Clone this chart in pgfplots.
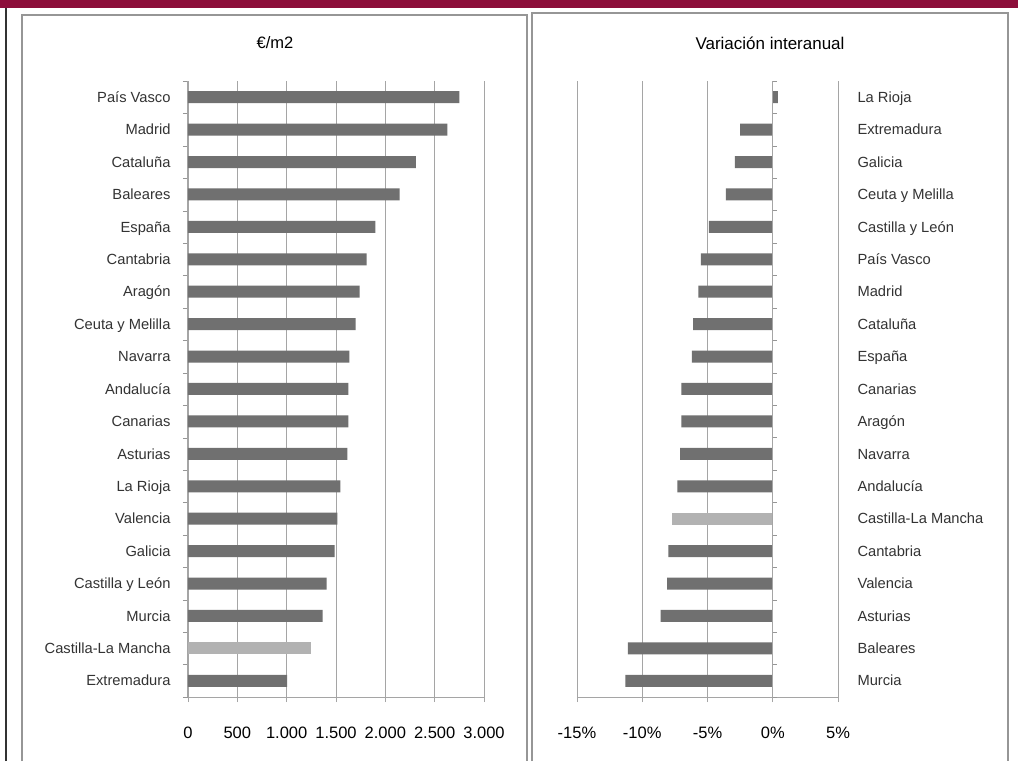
\documentclass[border=0pt]{standalone}
\usepackage{pgfplots}
\pgfplotsset{compat=1.18}
\usepackage{fontspec}
\setmainfont{Liberation Sans}
\definecolor{bandred}{RGB}{140,14,58}
\definecolor{bardark}{RGB}{112,112,112}
\definecolor{barlight}{RGB}{178,178,178}
\definecolor{gridgray}{RGB}{165,165,165}
\definecolor{framegray}{RGB}{150,150,150}

\pgfplotsset{
  panel/.style={
    scale only axis,
    height=616pt,
    xbar, bar width=12pt, bar shift=0pt,
    ymin=-0.5, ymax=18.5,
    ytick={0,...,18},
    minor ytick={-0.5,0.5,...,18.5},
    major y tick style={draw=none},
    xmajorgrids,
    grid style={gridgray, line width=0.8pt},
    axis x line*=bottom,
    tick align=outside,
    major tick length=5pt, minor tick length=5pt,
    axis line style={gridgray, line width=1pt},
    x tick style={gridgray, line width=0.8pt},
    typeset ticklabels with strut,
    /pgf/number format/assume math mode=true,
    xticklabel style={font=\fontsize{16.5}{18}\selectfont, anchor=base, yshift=-36pt},
    yticklabel style={font=\fontsize{14.7}{16}\selectfont, text=black!80, yshift=-2pt},
  }
}

\begin{document}
\begin{tikzpicture}
\useasboundingbox (0,0) rectangle (1018pt,761pt);
\fill[white] (0,0) rectangle (1018pt,761pt);
\fill[bandred] (0,753pt) rectangle (1018pt,761pt);
\draw[black!80, line width=2pt] (6pt,0) -- (6pt,753pt);
\draw[framegray, line width=2pt] (22pt,0) -- (22pt,746pt) -- (527pt,746pt) -- (527pt,0);
\draw[framegray, line width=2pt] (532pt,0) -- (532pt,748pt) -- (1008pt,748pt) -- (1008pt,0);

\node at (275pt,718pt) {\fontsize{16.5}{18}\selectfont €/m2};
\node at (770pt,718pt) {\fontsize{17}{18}\selectfont Variación interanual};

% precio por m2
\begin{axis}[panel,
  at={(188pt,64pt)}, anchor=south west,
  width=296pt,
  xmin=0, xmax=3000,
  xtick={0,500,...,3000},
  /pgf/number format/.cd, 1000 sep={.}, /pgfplots/.cd,
  axis y line*=left,
  minor y tick style={framegray},
  yticklabel style={xshift=-9pt},
  yticklabels={Extremadura, Castilla-La Mancha, Murcia, Castilla y León, Galicia,
    Valencia, La Rioja, Asturias, Canarias, Andalucía, Navarra, Ceuta y Melilla,
    Aragón, Cantabria, España, Baleares, Cataluña, Madrid, País Vasco},
]
\addplot[fill=bardark, draw=none] coordinates {
  (1005,0) (1365,2) (1405,3) (1485,4) (1515,5) (1545,6) (1615,7) (1625,8)
  (1625,9) (1635,10) (1700,11) (1740,12) (1810,13) (1900,14) (2145,15)
  (2310,16) (2630,17) (2750,18)
};
\addplot[fill=barlight, draw=none] coordinates {(1250,1)};
\end{axis}

% variacion interanual
\begin{axis}[panel,
  at={(577pt,64pt)}, anchor=south west,
  width=261pt,
  xmin=-15, xmax=5,
  xtick={-15,-10,...,5},
  xticklabel={\pgfmathprintnumber{\tick}\%},
  axis y line*=right,
  minor y tick style={draw=none},
  yticklabel style={anchor=west, xshift=11pt},
  yticklabels={Murcia, Baleares, Asturias, Valencia, Cantabria, Castilla-La Mancha,
    Andalucía, Navarra, Aragón, Canarias, España, Cataluña, Madrid, País Vasco,
    Castilla y León, Ceuta y Melilla, Galicia, Extremadura, La Rioja},
]
\addplot[fill=bardark, draw=none] coordinates {
  (-11.3,0) (-11.1,1) (-8.6,2) (-8.1,3) (-8.0,4) (-7.3,6) (-7.1,7) (-7.0,8)
  (-7.0,9) (-6.2,10) (-6.1,11) (-5.7,12) (-5.5,13) (-4.9,14) (-3.6,15)
  (-2.9,16) (-2.5,17) (0.4,18)
};
\addplot[fill=barlight, draw=none] coordinates {(-7.7,5)};
\draw[gridgray, line width=1pt] (axis cs:0,-0.5) -- (axis cs:0,18.5);
\pgfplotsinvokeforeach{-0.5,0.5,...,18.5}{
  \draw[framegray] (axis cs:0,#1) -- ([xshift=4pt]axis cs:0,#1);
}
\end{axis}
\end{tikzpicture}
\end{document}
